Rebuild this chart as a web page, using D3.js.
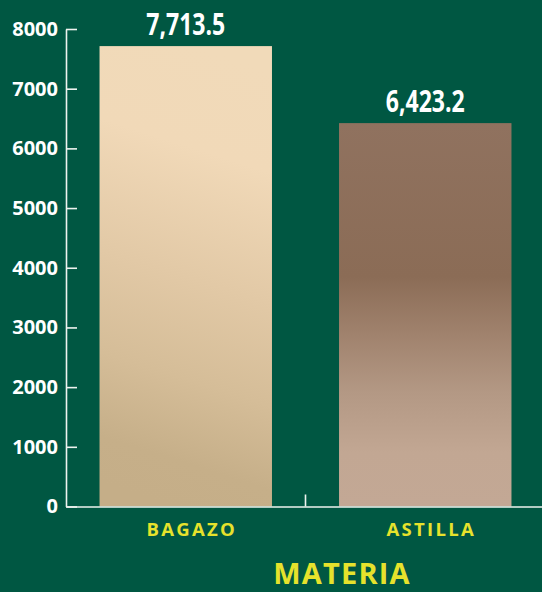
<!DOCTYPE html>
<html>
<head>
<meta charset="utf-8">
<script src="https://cdn.jsdelivr.net/npm/d3@7"></script>
<style>
  html, body { margin: 0; padding: 0; background: #005742; }
  svg { display: block; }
</style>
</head>
<body>
<div id="chart"></div>
<script>
// data
var categories = ['BAGAZO', 'ASTILLA'];
var values = [7713.5, 6423.2];
var valueLabels = ['7,713.5', '6,423.2'];
var yTicks = [0, 1000, 2000, 3000, 4000, 5000, 6000, 7000, 8000];
var xTitle = 'MATERIA';

var width = 542,
    height = 592,
    bg = '#005742',
    yellow = '#e6e22c',
    axisColor = '#eef3ef';

var margin = { left: 66, right: -3, top: 29, bottom: 85 };

// one gradient per bar, top -> bottom
var gradients = [
  [[0, '#f1dab9'], [0.22, '#f1d9b8'], [0.5, '#e2c9a6'], [0.72, '#d5bd98'], [0.9, '#c6af89'], [1, '#c5ae88']],
  [[0, '#90725f'], [0.4, '#8b6c56'], [0.55, '#a0826d'], [0.7, '#b39884'], [0.86, '#c2a793'], [1, '#c3a895']]
];

var svg = d3.select('#chart').append('svg')
    .attr('width', width)
    .attr('height', height)
    .style('background', bg);

var defs = svg.append('defs');
gradients.forEach(function(stops, i) {
  var g = defs.append('linearGradient')
      .attr('id', 'grad' + i)
      .attr('x1', i === 0 ? 0.56 : 0.5).attr('y1', 0)
      .attr('x2', i === 0 ? 0.44 : 0.5).attr('y2', 1);
  g.selectAll('stop').data(stops).enter().append('stop')
      .attr('offset', function(d) { return d[0]; })
      .attr('stop-color', function(d) { return d[1]; });
});

var x = d3.scaleBand()
    .domain(categories)
    .range([margin.left, width - margin.right])
    .paddingInner(0.28)
    .paddingOuter(0.14);

var y = d3.scaleLinear()
    .domain([0, 8000])
    .range([height - margin.bottom - 0.5, margin.top]);

// bars
svg.append('g').selectAll('rect')
    .data(values)
    .enter().append('rect')
    .attr('x', function(d, i) { return x(categories[i]); })
    .attr('width', x.bandwidth())
    .attr('y', function(d) { return y(d); })
    .attr('height', function(d) { return y(0) - y(d); })
    .attr('fill', function(d, i) { return 'url(#grad' + i + ')'; });

// value labels (condensed look: squeeze to the reference width)
svg.append('g').selectAll('text')
    .data(values)
    .enter().append('text')
    .attr('x', function(d, i) { return x(categories[i]) + x.bandwidth() / 2; })
    .attr('y', function(d) { return y(d) - 11; })
    .attr('text-anchor', 'middle')
    .attr('textLength', 79)
    .attr('lengthAdjust', 'spacingAndGlyphs')
    .attr('fill', '#ffffff')
    .style('font-family', '"Open Sans", sans-serif')
    .style('font-weight', 'bold')
    .style('font-size', '30px')
    .text(function(d, i) { return valueLabels[i]; });

// y axis, ticks pointing inward
var yAxis = d3.axisLeft(y)
    .tickValues(yTicks)
    .tickFormat(d3.format('d'))
    .tickSizeInner(-11)
    .tickSizeOuter(0)
    .tickPadding(8);

var gy = svg.append('g')
    .attr('transform', 'translate(' + margin.left + ',0)')
    .call(yAxis);
gy.select('.domain').attr('stroke', axisColor).attr('stroke-width', 1.6);
gy.selectAll('.tick line').attr('stroke', axisColor).attr('stroke-width', 1.6);
gy.selectAll('.tick text')
    .attr('fill', '#ffffff')
    .style('font-family', '"Open Sans", sans-serif')
    .style('font-weight', 'bold')
    .style('font-size', '20px');

// x axis
var xAxis = d3.axisBottom(x)
    .tickSize(0)
    .tickPadding(15);

var gx = svg.append('g')
    .attr('transform', 'translate(0,' + y(0) + ')')
    .call(xAxis);
gx.select('.domain').attr('stroke', axisColor).attr('stroke-width', 1.6);
gx.selectAll('.tick text')
    .attr('fill', yellow)
    .attr('dy', '0.78em')
    .attr('dx', '6px')
    .style('font-family', '"Open Sans", sans-serif')
    .style('font-weight', 'bold')
    .style('font-size', '18.5px')
    .style('letter-spacing', '2.3px');

// separator tick between categories
var sepX = x(categories[1]) - x.step() * x.paddingInner() / 2;
gx.append('line')
    .attr('x1', sepX).attr('x2', sepX)
    .attr('y1', 0).attr('y2', -12)
    .attr('stroke', axisColor)
    .attr('stroke-width', 1.6);

// axis title
svg.append('text')
    .attr('x', 342)
    .attr('y', 584)
    .attr('text-anchor', 'middle')
    .attr('fill', yellow)
    .style('font-family', '"Open Sans", sans-serif')
    .style('font-weight', 'bold')
    .style('font-size', '29px')
    .style('letter-spacing', '1.2px')
    .text(xTitle);
</script>
</body>
</html>
